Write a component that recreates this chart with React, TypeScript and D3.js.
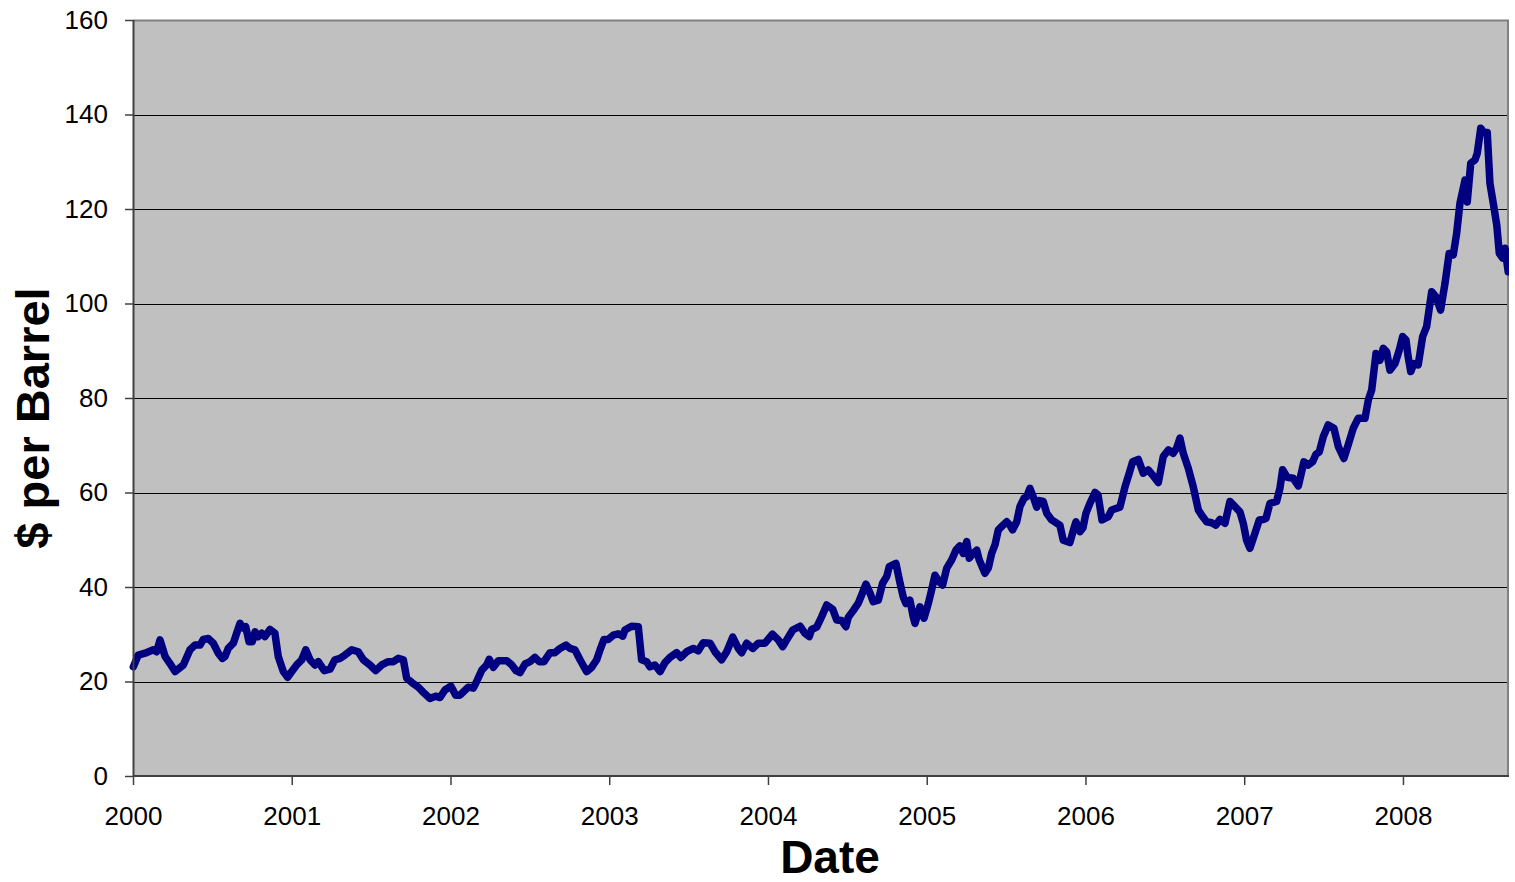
import React, { useEffect, useRef } from "react";
import * as d3 from "d3";

// weekly oil price (decimal year, $ per barrel)
const dateYears = [
  2000.002, 2000.033, 2000.076, 2000.128, 2000.149, 2000.17, 2000.202, 2000.233, 2000.265, 2000.317,
  2000.359, 2000.391, 2000.422, 2000.443, 2000.474, 2000.506, 2000.537, 2000.563, 2000.58, 2000.6,
  2000.632, 2000.653, 2000.674, 2000.695, 2000.71, 2000.731, 2000.751, 2000.769, 2000.789, 2000.811,
  2000.831, 2000.863, 2000.894, 2000.915, 2000.947, 2000.974, 2001.0, 2001.031, 2001.063, 2001.088,
  2001.115, 2001.146, 2001.167, 2001.205, 2001.241, 2001.272, 2001.304, 2001.335, 2001.378, 2001.419,
  2001.451, 2001.493, 2001.529, 2001.567, 2001.608, 2001.64, 2001.671, 2001.703, 2001.724, 2001.756,
  2001.797, 2001.835, 2001.871, 2001.907, 2001.934, 2001.965, 2002.003, 2002.033, 2002.06, 2002.081,
  2002.112, 2002.144, 2002.169, 2002.197, 2002.228, 2002.244, 2002.27, 2002.301, 2002.354, 2002.386,
  2002.413, 2002.438, 2002.469, 2002.501, 2002.532, 2002.559, 2002.589, 2002.627, 2002.658, 2002.69,
  2002.728, 2002.753, 2002.784, 2002.816, 2002.858, 2002.889, 2002.921, 2002.942, 2002.967, 2002.994,
  2003.026, 2003.057, 2003.085, 2003.099, 2003.141, 2003.183, 2003.204, 2003.236, 2003.257, 2003.288,
  2003.32, 2003.351, 2003.383, 2003.425, 2003.45, 2003.488, 2003.53, 2003.561, 2003.592, 2003.635,
  2003.666, 2003.708, 2003.74, 2003.778, 2003.813, 2003.834, 2003.866, 2003.904, 2003.939, 2003.981,
  2004.028, 2004.065, 2004.093, 2004.118, 2004.156, 2004.202, 2004.233, 2004.26, 2004.275, 2004.307,
  2004.338, 2004.37, 2004.408, 2004.433, 2004.464, 2004.491, 2004.506, 2004.537, 2004.569, 2004.59,
  2004.617, 2004.643, 2004.663, 2004.695, 2004.722, 2004.748, 2004.764, 2004.806, 2004.832, 2004.852,
  2004.869, 2004.894, 2004.915, 2004.926, 2004.957, 2004.983, 2005.01, 2005.031, 2005.052, 2005.079,
  2005.1, 2005.126, 2005.157, 2005.184, 2005.209, 2005.23, 2005.252, 2005.268, 2005.293, 2005.315,
  2005.331, 2005.367, 2005.388, 2005.409, 2005.43, 2005.451, 2005.472, 2005.504, 2005.524, 2005.541,
  2005.567, 2005.587, 2005.613, 2005.63, 2005.65, 2005.671, 2005.693, 2005.709, 2005.734, 2005.756,
  2005.787, 2005.819, 2005.839, 2005.86, 2005.902, 2005.928, 2005.94, 2005.965, 2005.984, 2006.003,
  2006.028, 2006.06, 2006.079, 2006.104, 2006.144, 2006.165, 2006.217, 2006.249, 2006.276, 2006.297,
  2006.333, 2006.364, 2006.396, 2006.423, 2006.459, 2006.49, 2006.522, 2006.553, 2006.574, 2006.595,
  2006.616, 2006.648, 2006.679, 2006.711, 2006.738, 2006.763, 2006.795, 2006.822, 2006.847, 2006.879,
  2006.91, 2006.942, 2006.973, 2006.994, 2007.015, 2007.036, 2007.068, 2007.095, 2007.12, 2007.137,
  2007.162, 2007.204, 2007.225, 2007.242, 2007.271, 2007.309, 2007.341, 2007.362, 2007.376, 2007.403,
  2007.431, 2007.452, 2007.473, 2007.498, 2007.529, 2007.565, 2007.593, 2007.628, 2007.655, 2007.687,
  2007.718, 2007.761, 2007.782, 2007.803, 2007.83, 2007.855, 2007.876, 2007.897, 2007.918, 2007.95,
  2007.977, 2007.998, 2008.019, 2008.033, 2008.049, 2008.069, 2008.096, 2008.124, 2008.149, 2008.181,
  2008.208, 2008.237, 2008.265, 2008.291, 2008.317, 2008.338, 2008.359, 2008.391, 2008.405, 2008.427,
  2008.454, 2008.468, 2008.49, 2008.51, 2008.531, 2008.548, 2008.569, 2008.591, 2008.607, 2008.628,
  2008.643, 2008.663,
];

const prices = [
  23.1, 25.6, 26.0, 26.7, 26.3, 28.8, 25.3, 23.8, 22.1, 23.5,
  26.7, 27.7, 27.7, 28.9, 29.1, 28.1, 26.0, 24.9, 25.3, 27.0,
  28.1, 30.2, 32.3, 31.3, 31.6, 28.4, 28.4, 30.5, 29.5, 30.2,
  29.5, 31.0, 30.2, 25.3, 22.1, 20.9, 22.1, 23.5, 24.6, 26.7,
  24.6, 23.5, 24.2, 22.3, 22.6, 24.6, 24.9, 25.6, 26.7, 26.3,
  24.6, 23.5, 22.3, 23.5, 24.2, 24.2, 24.9, 24.6, 20.7, 19.8,
  18.8, 17.5, 16.4, 16.9, 16.6, 18.2, 19.0, 17.1, 17.1, 17.8,
  18.8, 18.6, 20.3, 22.4, 23.5, 24.7, 23.0, 24.4, 24.4, 23.5,
  22.3, 21.9, 23.7, 24.2, 25.1, 24.2, 24.2, 26.1, 26.1, 27.0,
  27.7, 27.0, 26.7, 24.6, 22.1, 23.0, 24.6, 26.7, 28.9, 28.9,
  29.8, 30.1, 29.6, 30.9, 31.7, 31.6, 24.6, 24.2, 23.1, 23.5,
  22.1, 24.0, 25.1, 26.1, 25.1, 26.3, 27.0, 26.5, 28.2, 28.1,
  26.3, 24.6, 26.3, 29.4, 27.0, 26.1, 28.1, 27.0, 28.1, 28.1,
  30.0, 28.8, 27.4, 28.8, 30.9, 31.7, 30.2, 29.5, 31.0, 31.5,
  33.7, 36.2, 35.3, 33.0, 32.9, 31.6, 33.6, 35.0, 36.6, 38.3,
  40.6, 38.7, 36.9, 37.2, 40.8, 42.2, 44.3, 45.0, 40.8, 37.9,
  36.5, 37.2, 33.7, 32.3, 35.8, 33.4, 36.5, 39.4, 42.5, 41.1,
  40.4, 44.0, 45.7, 47.8, 48.7, 47.1, 49.6, 46.1, 47.1, 47.8,
  45.7, 42.9, 44.0, 47.1, 48.9, 52.1, 52.8, 53.8, 53.1, 52.1,
  53.8, 57.0, 58.8, 59.1, 60.9, 59.1, 56.9, 58.3, 58.1, 55.6,
  54.2, 53.5, 53.1, 49.9, 49.4, 52.5, 53.8, 51.7, 52.5, 55.6,
  57.7, 60.0, 59.5, 54.2, 54.9, 56.3, 56.9, 61.2, 64.1, 66.5,
  67.0, 64.1, 64.8, 63.7, 62.1, 67.6, 69.0, 68.3, 69.4, 71.5,
  68.3, 65.1, 61.2, 56.3, 54.9, 53.8, 53.6, 53.1, 54.3, 53.5,
  58.1, 57.0, 55.9, 53.5, 49.9, 48.2, 51.4, 54.2, 54.3, 54.5,
  57.7, 58.1, 60.9, 64.8, 63.2, 63.0, 61.4, 64.4, 66.5, 65.8,
  66.5, 68.1, 68.6, 71.8, 74.3, 73.6, 69.7, 67.2, 70.1, 73.6,
  75.7, 75.7, 79.6, 81.7, 89.4, 88.0, 90.5, 89.8, 85.9, 87.3,
  90.2, 93.0, 92.3, 88.7, 85.6, 87.3, 87.0, 93.0, 95.1, 102.5,
  101.4, 98.6, 104.3, 110.6, 110.3, 114.8, 121.2, 126.1, 121.5, 129.7,
  130.4, 131.8, 137.1, 136.2, 136.2, 125.4, 121.2, 116.6, 110.6, 109.6,
  111.7, 106.7,
];

const yearTicks = [2000, 2001, 2002, 2003, 2004, 2005, 2006, 2007, 2008];
const priceTicks = [0, 20, 40, 60, 80, 100, 120, 140, 160];

const App = () => {
  const ref = useRef<SVGSVGElement>(null);

  useEffect(() => {
    const width = 1515;
    const height = 882;
    const margin = { top: 20, left: 133, bottom: 106, right: 6 };
    const iwidth = width - margin.left - margin.right;
    const iheight = height - margin.top - margin.bottom;
    const font = "'Liberation Sans', Arial, sans-serif";

    const svg = d3.select(ref.current);
    svg.selectAll("*").remove();

    const g = svg
      .append("g")
      .attr("transform", `translate(${margin.left},${margin.top})`);

    const x = d3.scaleLinear().domain([2000, 2008.668]).range([0, iwidth]);
    const y = d3.scaleLinear().domain([0, 160]).range([iheight, 0]);

    g.append("rect")
      .attr("width", iwidth)
      .attr("height", iheight)
      .attr("fill", "#c0c0c0");

    // gridlines
    g.append("g")
      .selectAll("line")
      .data(priceTicks.slice(1, -1))
      .enter()
      .append("line")
      .attr("x1", 0)
      .attr("x2", iwidth)
      .attr("y1", (d) => Math.round(y(d)) + 0.5)
      .attr("y2", (d) => Math.round(y(d)) + 0.5)
      .attr("stroke", "#000")
      .attr("stroke-width", 1);

    // top + right border
    g.append("path")
      .attr("d", `M0,0.5H${iwidth - 1}V${iheight}`)
      .attr("fill", "none")
      .attr("stroke", "#808080")
      .attr("stroke-width", 2);

    const line = d3
      .line<number>()
      .x((d, i) => x(dateYears[i]))
      .y((d) => y(d));

    g.append("clipPath")
      .attr("id", "plotclip")
      .append("rect")
      .attr("x", -4)
      .attr("y", -4)
      .attr("width", iwidth + 4)
      .attr("height", iheight + 8);

    g.append("path")
      .datum(prices)
      .attr("clip-path", "url(#plotclip)")
      .attr("d", line)
      .attr("fill", "none")
      .attr("stroke", "#000080")
      .attr("stroke-width", 7.5)
      .attr("stroke-linejoin", "round")
      .attr("stroke-linecap", "round");

    const yAxis = g
      .append("g")
      .call(
        d3
          .axisLeft(y)
          .tickValues(priceTicks)
          .tickSize(8)
          .tickPadding(17)
          .tickFormat(d3.format("d"))
      );

    const xAxis = g
      .append("g")
      .attr("transform", `translate(0, ${iheight})`)
      .call(
        d3
          .axisBottom(x)
          .tickValues(yearTicks)
          .tickSize(9)
          .tickPadding(22)
          .tickFormat(d3.format("d"))
      );

    [yAxis, xAxis].forEach((ax) => {
      ax.select(".domain").attr("stroke", "#404040").attr("stroke-width", 2);
      ax.selectAll(".tick line").attr("stroke", "#404040").attr("stroke-width", 1.5);
      ax.selectAll("text")
        .attr("font-family", font)
        .attr("font-size", 26)
        .attr("fill", "#000");
    });
    yAxis.select(".domain").attr("d", `M0.5,${iheight}V0`);
    xAxis.select(".domain").attr("d", `M0,0H${iwidth}`);
    xAxis.selectAll("text").attr("dy", "0.71em");

    svg
      .append("text")
      .attr("x", 830)
      .attr("y", 873)
      .attr("text-anchor", "middle")
      .attr("font-family", font)
      .attr("font-weight", "bold")
      .attr("font-size", 46)
      .text("Date");

    svg
      .append("text")
      .attr("transform", "translate(49,418) rotate(-90)")
      .attr("text-anchor", "middle")
      .attr("font-family", font)
      .attr("font-weight", "bold")
      .attr("font-size", 47)
      .text("$ per Barrel");
  }, []);

  return (
    <svg
      ref={ref}
      width={1515}
      height={882}
      style={{ position: "absolute", left: 0, top: 0, background: "#fff" }}
    />
  );
};

export default App;
